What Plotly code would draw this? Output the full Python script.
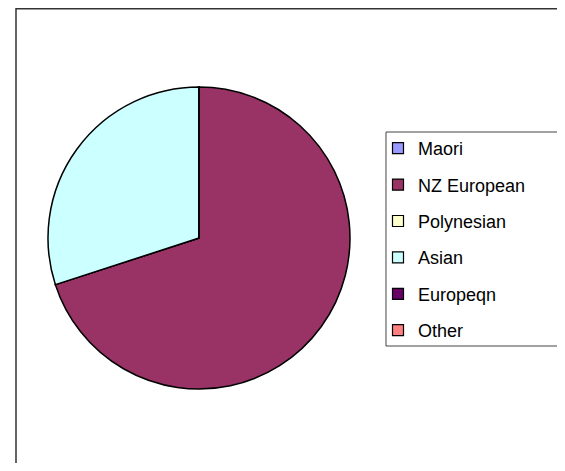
import plotly.graph_objects as go

# ethnicity breakdown (share of total)
labels = ["Maori", "NZ European", "Polynesian", "Asian", "Europeqn", "Other"]
values = [0, 70, 0, 30, 0, 0]
colors = ["#9999FF", "#993366", "#FFFFCC", "#CCFFFF", "#660066", "#FF8080"]

# page body has an 8px margin, so keep the figure inside the window
W, H = 549, 455

fig = go.Figure()
fig.add_trace(go.Pie(
    labels=labels, values=values, sort=False,
    direction='clockwise', rotation=0,
    marker=dict(colors=colors, line=dict(color='black', width=1.5)),
    textinfo='none', hoverinfo='label+percent', showlegend=False,
    domain=dict(x=[40 / W, 342 / W], y=[1 - 381 / H, 1 - 79 / H]),
))

# legend entries as dummy markers so the row spacing can be controlled
for i, (lab, col) in enumerate(zip(labels, colors)):
    fig.add_trace(go.Scatter(
        x=[None], y=[None], mode='markers', name=lab,
        legendgroup=f'g{i}',
        marker=dict(symbol='square', size=11, color=col,
                    line=dict(color='black', width=1.2)),
    ))


def px(x, y):
    return f"{x / W:.5f},{1 - y / H:.5f}"


# outer chart frame: only left and top edges are inside the window
fig.add_shape(type='path', xref='paper', yref='paper',
              path=f"M {px(8, H)} L {px(8, 0.8)} L {px(W, 0.8)}",
              line=dict(color='#333333', width=1.5))
# legend box, open on the right where it runs off the page
fig.add_shape(type='path', xref='paper', yref='paper',
              path=f"M {px(W, 124)} L {px(378, 124)} L {px(378, 338)} L {px(W, 338)}",
              line=dict(color='#444444', width=1))

fig.update_layout(
    width=W, height=H,
    margin=dict(l=0, r=0, t=0, b=0, autoexpand=False),
    paper_bgcolor='white', plot_bgcolor='white',
    font=dict(family='Liberation Sans, Arial, sans-serif', size=18, color='black'),
    xaxis=dict(visible=False), yaxis=dict(visible=False),
    legend=dict(
        x=370 / W, y=1 - 122 / H, xanchor='left', yanchor='top',
        bgcolor='rgba(0,0,0,0)', borderwidth=0,
        font=dict(size=18), tracegroupgap=10, itemwidth=30,
    ),
)

fig.write_html("out.html")
